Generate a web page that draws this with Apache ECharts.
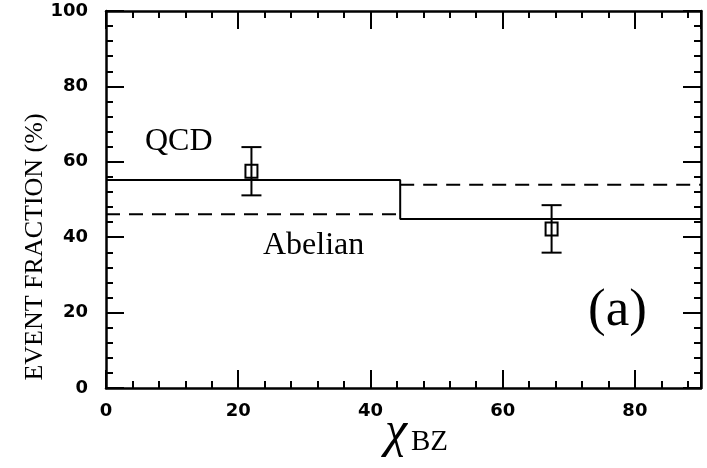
<!DOCTYPE html>
<html>
<head>
<meta charset="utf-8">
<script src="https://cdn.jsdelivr.net/npm/echarts@6/dist/echarts.min.js"></script>
<style>
  html, body { margin: 0; padding: 0; background: #fff; }
  #chart { width: 707px; height: 468px; }
</style>
</head>
<body>
<div id="chart"></div>
<script>
// Bin edges along chi_BZ and predicted event fractions per bin
const binEdges = [0, 44.5, 90];
const qcdFraction = [55.2, 44.8];
const abelianFraction = [46.1, 53.9];

// Measured points with symmetric errors
const measX = [22, 67.4];
const measY = [57.5, 42.2];
const measErr = [6.4, 6.3];

// Axis ranges
const xRange = [0, 90];
const yRange = [0, 100];

// Solid QCD histogram outline (with the vertical step between bins)
const qcdLine = [];
qcdFraction.forEach(function (v, i) {
  qcdLine.push([binEdges[i], v]);
  qcdLine.push([binEdges[i + 1], v]);
});

// Dashed Abelian levels, one separate segment per bin
const abelianLine = [];
abelianFraction.forEach(function (v, i) {
  if (i > 0) abelianLine.push('-');
  abelianLine.push([binEdges[i], v]);
  abelianLine.push([binEdges[i + 1], v]);
});

const points = measX.map(function (x, i) { return [x, measY[i], measErr[i]]; });

const black = '#000';
const labelFont = { color: black, fontFamily: 'DejaVu Sans', fontWeight: 'bold', fontSize: 18 };

function makeAxis(pos, range, showLabels, isX) {
  return {
    type: 'value',
    position: pos,
    min: range[0],
    max: range[1],
    interval: 20,
    axisLine: { show: true, onZero: false, lineStyle: { color: black, width: 2.5 } },
    axisTick: { show: true, inside: true, length: 18, lineStyle: { color: black, width: 2 } },
    minorTick: { show: true, splitNumber: 5, length: 7, lineStyle: { color: black, width: 2 } },
    splitLine: { show: false },
    axisLabel: Object.assign({
      show: showLabels,
      margin: isX ? 14 : 18,
      showMaxLabel: !isX
    }, labelFont)
  };
}

const chart = echarts.init(document.getElementById('chart'), null, { renderer: 'canvas' });

chart.setOption({
  backgroundColor: '#fff',
  animation: false,
  grid: { left: 106, right: 6, top: 11, bottom: 80, containLabel: false },
  xAxis: [
    makeAxis('bottom', xRange, true, true),
    makeAxis('top', xRange, false, true)
  ],
  yAxis: [
    makeAxis('left', yRange, true, false),
    makeAxis('right', yRange, false, false)
  ],
  series: [
    {
      name: 'QCD',
      type: 'line',
      data: qcdLine,
      symbol: 'none',
      lineStyle: { color: black, width: 2 },
      z: 3
    },
    {
      name: 'Abelian',
      type: 'line',
      data: abelianLine,
      symbol: 'none',
      connectNulls: false,
      lineStyle: { color: black, width: 2, type: [14, 9] },
      z: 3
    },
    {
      name: 'data',
      type: 'custom',
      data: points,
      z: 4,
      renderItem: function (params, api) {
        const x = api.value(0), y = api.value(1), e = api.value(2);
        const c = api.coord([x, y]);
        const t = api.coord([x, y + e]);
        const b = api.coord([x, y - e]);
        const cap = 10;
        const s = { stroke: black, lineWidth: 2, fill: null };
        return {
          type: 'group',
          children: [
            { type: 'line', shape: { x1: t[0], y1: t[1], x2: b[0], y2: b[1] }, style: s },
            { type: 'line', shape: { x1: t[0] - cap, y1: t[1], x2: t[0] + cap, y2: t[1] }, style: s },
            { type: 'line', shape: { x1: b[0] - cap, y1: b[1], x2: b[0] + cap, y2: b[1] }, style: s },
            { type: 'rect', shape: { x: c[0] - 6, y: c[1] - 6.5, width: 12, height: 13 },
              style: { stroke: black, lineWidth: 2, fill: 'rgba(0,0,0,0)' } }
          ]
        };
      }
    }
  ],
  graphic: [
    { type: 'text', left: 145, top: 126, style: { text: 'QCD', fontFamily: 'Liberation Serif', fontSize: 32, fill: black } },
    { type: 'text', left: 263, top: 230, style: { text: 'Abelian', fontFamily: 'Liberation Serif', fontSize: 32, fill: black } },
    { type: 'text', left: 588, top: 285, style: { text: '(a)', fontFamily: 'Liberation Serif', fontSize: 53, fill: black } },
    { type: 'text', left: 385, top: 408, style: { text: 'χ', fontFamily: 'Liberation Serif', fontStyle: 'italic', fontSize: 50, fill: black } },
    { type: 'text', left: 411, top: 428, style: { text: 'BZ', fontFamily: 'Liberation Serif', fontSize: 29, fill: black } },
    {
      type: 'text',
      x: 35, y: 247,
      rotation: Math.PI / 2,
      style: {
        text: 'EVENT FRACTION (%)',
        fontFamily: 'Liberation Serif',
        fontSize: 26,
        fill: black,
        align: 'center',
        verticalAlign: 'middle'
      }
    }
  ]
});
</script>
</body>
</html>
